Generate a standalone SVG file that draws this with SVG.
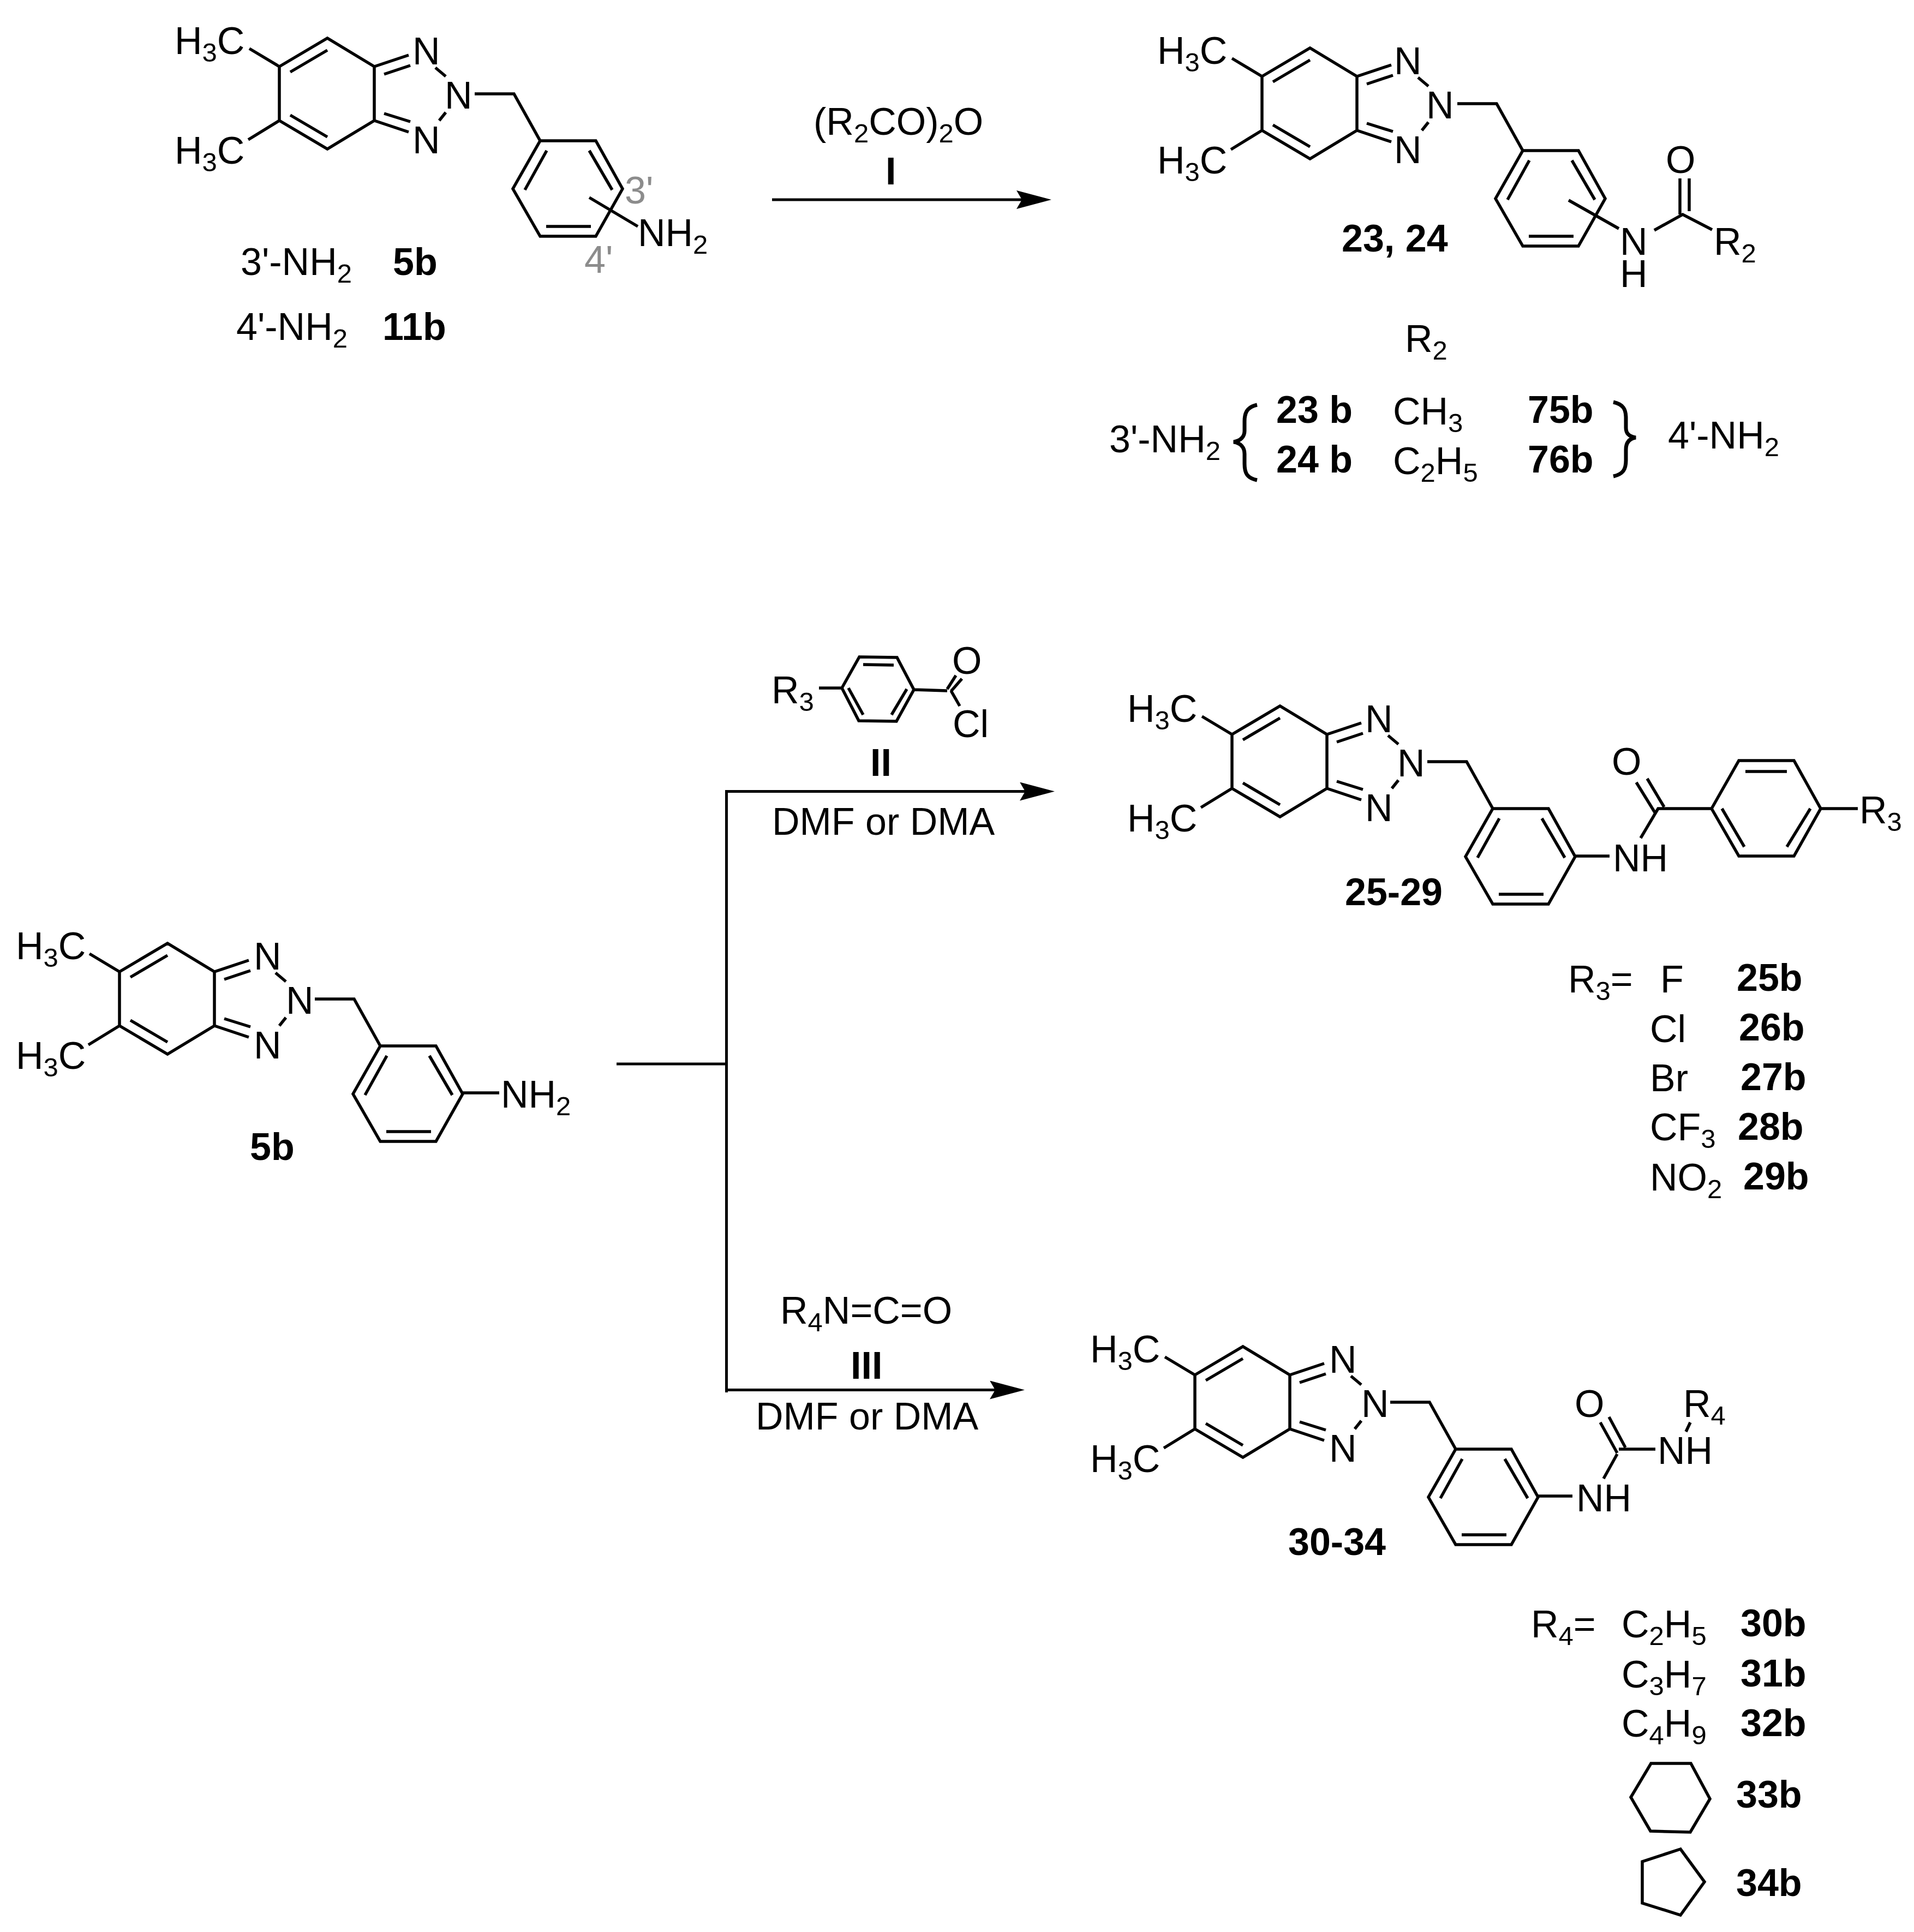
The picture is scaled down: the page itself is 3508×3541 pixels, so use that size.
<svg xmlns="http://www.w3.org/2000/svg" xmlns:xlink="http://www.w3.org/1999/xlink" width="3508" height="3541" viewBox="0 0 3508 3541">
<style>
text{font-family:"Liberation Sans",Arial,sans-serif;font-size:70px;fill:#000}
.b{font-weight:bold}
.g{fill:#8c8c8c}
.bond{fill:none;stroke:#000;stroke-width:5.5;stroke-linejoin:miter;stroke-linecap:butt}
.brace{fill:none;stroke:#000;stroke-width:7}
.conn{fill:none;stroke:#000;stroke-width:5}
.s{font-size:49px}
</style>
<defs>
<marker id="head" viewBox="0 0 64 34" markerUnits="userSpaceOnUse" markerWidth="64" markerHeight="34" refX="10" refY="17" orient="auto"><path d="M0 0L64 17L0 34L10 17Z" fill="#000"/></marker>
<path id="core" class="bond" d="M512 122L600 70L686 122V221L600 273L512 221ZM457 89L512 122M455 256L512 221M532 132L600 92M532 211L600 251M686 122L749 101M704 136L752 120M686 221L749 242M704 208L752 223M798 124L817 140M817 206L805 221M870 172H942L990 258M990 258H1092L1141 346L1092 433H990L940 346ZM1002 276L962 348M1080 276L1122 348M1001 415H1083"/>
</defs>
<rect width="3508" height="3541" fill="#fff"/>

<g id="connectors">
<path class="conn" d="M1415 366H1873" marker-end="url(#head)"/>
<path class="conn" d="M1130 1950H1331"/>
<path class="conn" d="M1331.500 2552V1450.500H1879" marker-end="url(#head)"/>
<path class="conn" d="M1331 2547.500H1824" marker-end="url(#head)"/>
</g>

<g id="node-5b-11b">
<use href="#core"/>
<text x="320" y="99">H<tspan class="s" dy="14">3</tspan><tspan dy="-14">C</tspan></text>
<text x="320" y="300">H<tspan class="s" dy="14">3</tspan><tspan dy="-14">C</tspan></text>
<text x="756" y="118">N</text><text x="815" y="199">N</text><text x="756" y="281">N</text>
<path class="bond" d="M1080 362L1169 415"/>
<text x="1169" y="451">NH<tspan class="s" dy="14">2</tspan></text>
<text class="g" x="1145" y="373">3'</text>
<text class="g" x="1071" y="500">4'</text>
<text x="441" y="504">3'-NH<tspan class="s" dy="14">2</tspan></text>
<text class="b" x="720" y="504">5b</text>
<text x="433" y="623">4'-NH<tspan class="s" dy="14">2</tspan></text>
<text class="b" x="701" y="623">11b</text>
</g>

<g id="reagent-I">
<text x="1491" y="247">(R<tspan class="s" dy="14">2</tspan><tspan dy="-14">CO)</tspan><tspan class="s" dy="14">2</tspan><tspan dy="-14">O</tspan></text>
<text class="b" x="1623" y="338">I</text>
</g>

<g id="node-23-24">
<g transform="translate(1801 18)">
<use href="#core"/>
<text x="320" y="99">H<tspan class="s" dy="14">3</tspan><tspan dy="-14">C</tspan></text>
<text x="320" y="300">H<tspan class="s" dy="14">3</tspan><tspan dy="-14">C</tspan></text>
<text x="754" y="118">N</text><text x="813" y="199">N</text><text x="754" y="281">N</text>
</g>
<path class="bond" d="M2875 367L2967 419M3032 422L3084 393L3138 421M3079 393V327M3096 387V327"/>
<text x="2969" y="467">N</text>
<text x="2969" y="526">H</text>
<text x="3053" y="317">O</text>
<text x="3141" y="467">R<tspan class="s" dy="14">2</tspan></text>
<text class="b" x="2459" y="461">23, 24</text>
<text x="2575" y="645">R<tspan class="s" dy="14">2</tspan></text>
<text x="2033" y="829">3'-NH<tspan class="s" dy="14">2</tspan></text>
<path class="brace" d="M2304 742C2286 746 2281 756 2281 772V790C2281 800 2274 808 2261 810C2274 812 2281 820 2281 832V850C2281 868 2286 876 2304 880"/>
<text class="b" x="2339" y="775">23 b</text>
<text class="b" x="2339" y="866">24 b</text>
<text x="2553" y="778">CH<tspan class="s" dy="14">3</tspan></text>
<text x="2553" y="869">C<tspan class="s" dy="14">2</tspan><tspan dy="-14">H</tspan><tspan class="s" dy="14">5</tspan></text>
<text class="b" x="2800" y="775">75b</text>
<text class="b" x="2800" y="866">76b</text>
<path class="brace" d="M2957 737C2975 741 2980 750 2980 766V784C2980 794 2985 800 2998 802C2985 804 2980 812 2980 824V844C2980 860 2975 869 2957 873"/>
<text x="3057" y="822">4'-NH<tspan class="s" dy="14">2</tspan></text>
</g>

<g id="node-5b">
<g transform="translate(-293 1659)">
<use href="#core"/>
<text x="322" y="99">H<tspan class="s" dy="14">3</tspan><tspan dy="-14">C</tspan></text>
<text x="322" y="300">H<tspan class="s" dy="14">3</tspan><tspan dy="-14">C</tspan></text>
<text x="758" y="118">N</text><text x="817" y="199">N</text><text x="758" y="281">N</text>
</g>
<path class="bond" d="M848 2003H915"/>
<text x="918" y="2030">NH<tspan class="s" dy="14">2</tspan></text>
<text class="b" x="458" y="2126">5b</text>
</g>

<g id="reagent-II">
<path class="bond" d="M1575 1204L1644 1205L1675 1264L1643 1322L1574 1321L1543 1261ZM1582 1218L1638 1219M1662 1263L1634 1310M1555 1261L1582 1310M1501 1261H1543M1675 1264L1736 1266M1736 1263L1752 1238M1743 1267L1763 1244M1743 1266L1759 1294"/>
<text x="1414" y="1289">R<tspan class="s" dy="14">3</tspan></text>
<text x="1745" y="1235">O</text>
<text x="1746" y="1351">Cl</text>
<text class="b" x="1595" y="1422">II</text>
<text x="1415" y="1530">DMF or DMA</text>
</g>

<g id="node-25-29">
<g transform="translate(1746 1224)">
<use href="#core"/>
<text x="320" y="99">H<tspan class="s" dy="14">3</tspan><tspan dy="-14">C</tspan></text>
<text x="320" y="300">H<tspan class="s" dy="14">3</tspan><tspan dy="-14">C</tspan></text>
<text x="756" y="118">N</text><text x="815" y="199">N</text><text x="756" y="281">N</text>
</g>
<path class="bond" d="M2887 1569H2950M3007 1536L3039 1482H3137M3019 1427L3050 1479M2999 1434L3033 1489M3137 1482L3187 1394H3288L3337 1482L3288 1569H3187ZM3199 1414H3275M3318 1482L3275 1552M3156 1482L3197 1552M3337 1482H3405"/>
<text x="2956" y="1597">NH</text>
<text x="2954" y="1420">O</text>
<text x="3408" y="1509">R<tspan class="s" dy="14">3</tspan></text>
<text class="b" x="2465" y="1659">25-29</text>
<text x="2874" y="1819">R<tspan class="s" dy="14">3</tspan><tspan dy="-14">=</tspan></text>
<text x="3043" y="1819">F</text><text class="b" x="3183" y="1816">25b</text>
<text x="3024" y="1910">Cl</text><text class="b" x="3187" y="1907">26b</text>
<text x="3024" y="2000">Br</text><text class="b" x="3190" y="1998">27b</text>
<text x="3024" y="2090">CF<tspan class="s" dy="14">3</tspan></text><text class="b" x="3185" y="2089">28b</text>
<text x="3024" y="2182">NO<tspan class="s" dy="14">2</tspan></text><text class="b" x="3195" y="2180">29b</text>
</g>

<g id="reagent-III">
<text x="1430" y="2426">R<tspan class="s" dy="14">4</tspan><tspan dy="-14">N=C=O</tspan></text>
<text class="b" x="1559" y="2527">III</text>
<text x="1385" y="2620">DMF or DMA</text>
</g>

<g id="node-30-34">
<g transform="translate(1678 2398)">
<use href="#core"/>
<text x="320" y="99">H<tspan class="s" dy="14">3</tspan><tspan dy="-14">C</tspan></text>
<text x="320" y="300">H<tspan class="s" dy="14">3</tspan><tspan dy="-14">C</tspan></text>
<text x="758" y="118">N</text><text x="817" y="199">N</text><text x="758" y="281">N</text>
</g>
<path class="bond" d="M2819 2742H2882M2939 2710L2964 2665M2967 2656H3034M2949 2597L2979 2653M2933 2607L2964 2663M3098 2607L3090 2624"/>
<text x="2889" y="2770">NH</text>
<text x="3038" y="2683">NH</text>
<text x="2886" y="2597">O</text>
<text x="3085" y="2597">R<tspan class="s" dy="14">4</tspan></text>
<text class="b" x="2361" y="2850">30-34</text>
<text x="2806" y="3001">R<tspan class="s" dy="14">4</tspan><tspan dy="-14">=</tspan></text>
<text x="2972" y="3001">C<tspan class="s" dy="14">2</tspan><tspan dy="-14">H</tspan><tspan class="s" dy="14">5</tspan></text><text class="b" x="3190" y="2999">30b</text>
<text x="2972" y="3093">C<tspan class="s" dy="14">3</tspan><tspan dy="-14">H</tspan><tspan class="s" dy="14">7</tspan></text><text class="b" x="3190" y="3091">31b</text>
<text x="2972" y="3183">C<tspan class="s" dy="14">4</tspan><tspan dy="-14">H</tspan><tspan class="s" dy="14">9</tspan></text><text class="b" x="3190" y="3182">32b</text>
<path class="bond" d="M3026 3232H3099L3134 3297L3098 3358L3025 3356L2989 3294Z"/>
<text class="b" x="3182" y="3313">33b</text>
<path class="bond" d="M3080 3389L3010 3412V3488L3080 3510L3124 3449Z"/>
<text class="b" x="3182" y="3475">34b</text>
</g>
</svg>
